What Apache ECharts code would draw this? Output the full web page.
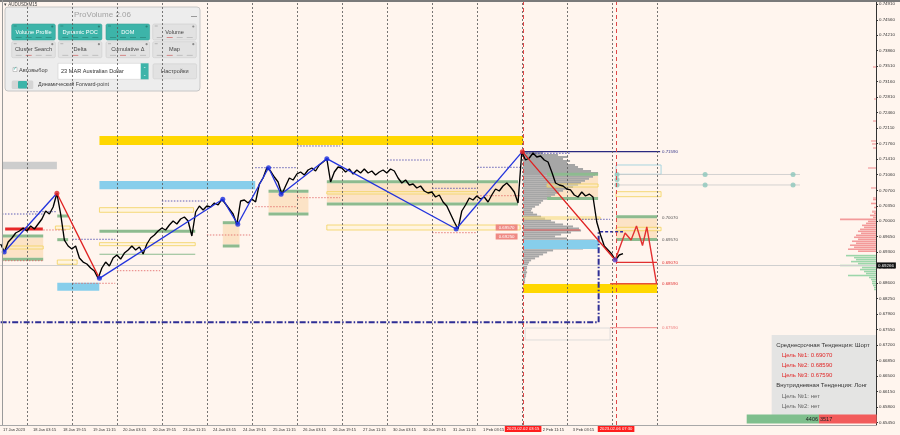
<!DOCTYPE html>
<html><head><meta charset="utf-8">
<script src="https://cdn.jsdelivr.net/npm/echarts@6/dist/echarts.min.js"></script>
<style>html,body{margin:0;padding:0;background:#fff5ee}#c{width:900px;height:435px}</style>
</head><body><div id="c"></div>
<script>
// ================= DATA =================
const xTickHours  = [11.25,27.25,43.25,59.25,75.25,91.25,107.25,123.25,139.25,155.25,171.25,187.25,203.25,219.25,235.25,251.25,267.25,283.25,299.25,315.25,331.25];
const xTickLabels = ['17 Jan 2023','18 Jan 03:15','18 Jan 19:15','19 Jan 11:15','20 Jan 03:15','20 Jan 19:15','23 Jan 11:15','24 Jan 03:15','24 Jan 19:15','25 Jan 11:15','26 Jan 03:15','26 Jan 19:15','27 Jan 11:15','30 Jan 03:15','30 Jan 19:15','31 Jan 11:15','1 Feb 03:15','1 Feb 19:15','2 Feb 11:15','3 Feb 03:15','3 Feb 19:15'];
const yTickLabels = ['0.65450','0.65800','0.66150','0.66500','0.66850','0.67200','0.67550','0.67900','0.68250','0.68600','0.68950','0.69300','0.69650','0.70000','0.70350','0.70700','0.71060','0.71410','0.71760','0.72110','0.72460','0.72810','0.73160','0.73510','0.73860','0.74210','0.74560','0.74910'];
const daySeparatorHours = [24,48,72,96,120,144,168,192,216,240,264,288,312,336,360];
const cursorHours  = [288.7, 338.3];
const cursorLabels = ['2023.02.02 03:15','2023.02.06 07:30'];
const currentPrice = 0.69266;

// close prices, one every 2 trading hours starting at hour 10
const priceStartHour = 10, priceStepHours = 2;
const priceValues = [
0.69485,0.69304,0.69530,0.69621,0.69734,0.69779,0.69847,0.69779,0.69892,0.69824,
0.69938,0.70051,0.70232,0.70164,0.70323,0.70633,0.70164,0.69575,0.69440,0.69372,
0.69440,0.69168,0.69077,0.69032,0.68942,0.68874,0.68708,0.68942,0.69077,0.68987,
0.69168,0.69236,0.69145,0.69281,0.69349,0.69440,0.69349,0.69417,0.69258,0.69485,
0.69621,0.69689,0.69779,0.69847,0.69802,0.69915,0.70006,0.69938,0.70051,0.70096,
0.70006,0.69666,0.70209,0.70345,0.70255,0.70345,0.70323,0.70413,0.70368,0.70497,
0.70390,0.70277,0.70164,0.69931,0.70458,0.70481,0.70413,0.70503,0.70436,0.70843,
0.70979,0.71212,0.71137,0.71001,0.70888,0.70610,0.70798,0.70979,0.70933,0.71069,
0.71115,0.71047,0.71160,0.71205,0.71137,0.71273,0.71341,0.71416,0.70888,0.71115,
0.71228,0.71205,0.71115,0.71182,0.71069,0.71160,0.71092,0.71182,0.71092,0.71137,
0.71047,0.71115,0.71160,0.71092,0.71182,0.71137,0.70979,0.70866,0.70933,0.70820,
0.70843,0.70752,0.70798,0.70684,0.70639,0.70662,0.70549,0.70594,0.70436,0.70345,
0.70164,0.69983,0.69825,0.70232,0.70368,0.70526,0.70481,0.70571,0.70503,0.70549,
0.70436,0.70594,0.70730,0.70684,0.70798,0.70866,0.70775,0.70662,0.70413,0.71574,
0.71386,0.71431,0.71545,0.71454,0.71477,0.71386,0.71341,0.71115,0.70866,0.70820,
0.70798,0.70730,0.70708,0.70594,0.70549,0.70662,0.70571,0.70616,0.70549,0.69983,
0.69689,0.69440,0.69349,0.69258,0.69123,0.69236,0.69266];

// zigzag swing points
const zigzagHours  = [11.9, 40.0, 62.7, 128.5, 136.5, 152.9, 159.6, 184.0, 253.0, 288.3, 337.8];
const zigzagPrices = [0.69304,0.70633,0.68708,0.70497,0.69931,0.71212,0.70610,0.71416,0.69825,0.71574,0.69123];
const zigzagSegColors = ['#2233dd','#e02020','#2233dd','#2233dd','#2233dd','#2233dd','#2233dd','#2233dd','#2233dd','#e02020'];
const zigzagDotColors = ['#1a2ee0','#e02020','#1a2ee0','#1a2ee0','#1a2ee0','#1a2ee0','#1a2ee0','#1a2ee0','#1a2ee0','#e02020','#5a3cc0'];

// forecast path
const forecastHours  = [337.8, 343.1, 346.3, 349.2, 352.4, 354.7, 359.9];
const forecastPrices = [0.69123,0.69734,0.69575,0.69892,0.69451,0.69870,0.68591];

// zones [startHour, endHour, topPrice, bottomPrice]
const goldZones  = [[62.7,288.7,0.71929,0.71726],[288.7,360.2,0.68580,0.68377]];
const skyZones   = [[62.7,145.8,0.70911,0.70723],[40.2,62.6,0.68610,0.68428]];
const valueArea  = [[288.7,328.7,0.69576,0.69372]];
const grayZones  = [[10.7,40.0,0.71348,0.71176]];
const beigeZones = [[10.7,32.7,0.69632,0.69173],[128.5,137.4,0.69933,0.69474],[152.9,174.2,0.70646,0.70198],
                    [184,286,0.70861,0.70425],[301.5,328.7,0.71029,0.70549],[338.3,360.2,0.70069,0.69621]];
const greenZones = [[10.7,32.7,0.69700,0.69632],[10.7,32.7,0.69173,0.69105],[40.2,46.0,0.70153,0.70085],[40.2,46.0,0.69617,0.69549],
                    [62.7,113.8,0.69807,0.69739],[62.7,113.8,0.69264,0.69240],[128.5,137.4,0.70001,0.69933],[128.5,137.4,0.69474,0.69406],
                    [152.9,174.2,0.70714,0.70646],[152.9,174.2,0.70198,0.70130],[184,286,0.70929,0.70861],[184,286,0.70425,0.70357],
                    [301.5,328.7,0.71097,0.71029],[301.5,328.7,0.70549,0.70481],[338.3,360.2,0.70137,0.70069],[338.3,360.2,0.69621,0.69553]];
const yellowBoxes = [[12.4,32.7,0.69440,0.69372],[39.2,47.1,0.69892,0.69818],[40.2,50.8,0.69123,0.69026],[62.7,112.9,0.70307,0.70203],
                     [62.7,113.8,0.69515,0.69447],[184,264.2,0.70669,0.70617],[184,287.1,0.69915,0.69802],[301.5,328.7,0.70843,0.70775],
                     [288.7,329.8,0.70096,0.70051],[338.3,362.3,0.70669,0.70556],[338.3,362.3,0.69863,0.69786]];
const lightBlueBoxes = [[338.3,362.3,0.71273,0.71063]];
const grayBoxes = [[289.8,335.1,0.67584,0.67313]];

// horizontal levels [startHour, endHour, price]
const redDotted  = [[10.7,32.7,0.69107],[32.7,45.5,0.69802],[48.2,71.1,0.68596],[72.0,95.1,0.68881],[120.0,143.1,0.69689],
                    [145.8,168.0,0.70329],[168.2,191.1,0.70533],[240.2,264.2,0.69741],[264.2,287.1,0.70578]];
const blueDotted = [[10.7,32.7,0.70164],[24.2,40.2,0.70216],[48.2,71.1,0.69592],[96.0,119.1,0.70458],[145.8,168.0,0.71212],
                    [168.2,191.1,0.71703],[216.2,239.1,0.71386],[240.2,264.2,0.70746],[264.2,287.1,0.71221],[288.7,313.8,0.71538],[312.2,335.1,0.70044]];
const arrowLevel = [[329.8,342.0,0.69764]];
const redThick   = [[12.4,32.5,0.69825]];
const pocLine    = [[288.7,319.1,0.69802]];
const highLevel  = [[288.7,361.8,0.71574]];
const gridLevels = [[338.3,436.4,0.71058],[338.3,436.4,0.70821]];
const dashDotHours  = [10, 329.0, 329.0];
const dashDotPrices = [0.67713, 0.67713, 0.69757];
const targetLines = [[338.3,360.2,0.69071,'#e03030',1.2],[335.1,360.2,0.68587,'#e8503a',1.5],[335.1,360.2,0.67591,'#f08a8a',1]];
const levelLabelHour = 362.8;
const levelLabels = [[0.71574,'0.71590','#333388'],[0.70070,'0.70070','#555555'],[0.69575,'0.69570','#555555'],
                     [0.69071,'0.69070','#e03030'],[0.68587,'0.68590','#e03030'],[0.67591,'0.67590','#ee8080']];
const tagLabelHour = 279.9;
const tagLabels = [[0.69859,'0.69570'],[0.69655,'0.69250']];
const tealDotHours  = [338.8,338.8,338.8,385.8,385.8,432.7,432.7];
const tealDotPrices = [0.71058,0.70945,0.70821,0.71058,0.70821,0.71058,0.70821];

// volume profile (rows from top price downwards)
const vpAnchorHour = 288.7, vpTopPrice = 0.71567, vpStep = 0.00045, vpHoursPerUnit = 0.533;
const vpSizes = [20,35,45,40,47,44,52,55,60,68,75,72,70,66,62,58,55,50,44,40,36,32,28,24,20,18,16,12,9,8,
                 10,14,18,22,28,32,40,50,56,58,48,38,32,44,72,76,75,74,60,30,24,20,16,12,8,6,5,4,4,3,4,3,3,2,2,2,1];

// depth of market at the right edge
const domAnchorHour = 476.96, domStep = 0.00045, domRowH = 0.00036, domHoursPerUnit = 0.533;
const askStart = 0.69304;
const askSizes = [18,28,22,26,20,24,18,22,20,15,18,16,12,14,10,8,36,3,6,2,4,0,2,0,5,0,3];
const bidStart = 0.69240;
const bidSizes = [30,22,20,25,18,36,14,16,12,10,28,7,5,4,4,3,2,2];
const farAsk = [[0.73491,3],[0.72766,2],[0.72268,3],[0.71817,5],[0.71749,4],[0.71658,3],[0.71205,8],[0.70753,5],[0.70527,3],[0.70209,4]];

// info texts
const trendLines = [
  ['Среднесрочная Тенденция: Шорт','#333333',0],
  ['Цель №1: 0.69070','#e02828',1],
  ['Цель №2: 0.68590','#e02828',1],
  ['Цель №3: 0.67590','#e02828',1],
  ['Внутридневная Тенденция: Лонг','#333333',0],
  ['Цель №1: нет','#666666',1],
  ['Цель №2: нет','#666666',1]];
const deltaCounts = [4406, 3517];
const panelButtons = [['Volume Profile',1],['Dynamic POC',1],['DOM',1],['Volume',0],
                      ['Cluster Search',0],['Delta',0],['Cumulative Δ',0],['Map',0]];

// ================= CHART =================
const FONT = 'Liberation Sans, Arial, sans-serif';
const chart = echarts.init(document.getElementById('c'));

function rectSeries(data, style, z) {
  return {type:'custom', silent:true, z:z, data:data, encode:{x:[0,1], y:[2,3]},
    renderItem:(params, api) => {
      const a = api.coord([api.value(0), api.value(2)]);
      const b = api.coord([api.value(1), api.value(3)]);
      return {type:'rect', shape:{x:a[0], y:a[1], width:b[0]-a[0], height:b[1]-a[1]}, style:Object.assign({}, style)};
    }};
}
function segSeries(data, style, z) {
  return {type:'custom', silent:true, z:z, data:data, encode:{x:[0,1], y:2},
    renderItem:(params, api) => {
      const a = api.coord([api.value(0), api.value(2)]);
      const b = api.coord([api.value(1), api.value(2)]);
      return {type:'line', shape:{x1:a[0], y1:a[1], x2:b[0], y2:b[1]}, style:Object.assign({}, style)};
    }};
}

const vpRects = vpSizes.map((s,i) => [vpAnchorHour, vpAnchorHour + s*vpHoursPerUnit, vpTopPrice - i*vpStep, vpTopPrice - (i+1)*vpStep]);
const askRects = askSizes.map((s,i) => [domAnchorHour - s*domHoursPerUnit, domAnchorHour, askStart + i*domStep + domRowH, askStart + i*domStep]).filter(r => r[1]-r[0] > 0);
const farRects = farAsk.map(d => [domAnchorHour - d[1]*domHoursPerUnit, domAnchorHour, d[0] + domRowH/2, d[0] - domRowH/2]);
const bidRects = bidSizes.map((s,i) => [domAnchorHour - s*domHoursPerUnit, domAnchorHour, bidStart - i*domStep, bidStart - i*domStep - domRowH]);

const zigSegs = zigzagHours.slice(0,-1).map((h,i) => [h, zigzagHours[i+1], zigzagPrices[i], zigzagPrices[i+1]]);
const yTickValues = yTickLabels.map(Number);

const series = [
  {type:'line', data:[], silent:true, z:1,
    markLine:{silent:true, symbol:'none', animation:false, label:{show:false},
      lineStyle:{color:'#555', type:[2,2], width:0.8},
      data: daySeparatorHours.map(h => ({xAxis:h}))}},
  {type:'line', data:[], silent:true, z:1,
    markLine:{silent:true, symbol:'none', animation:false,
      lineStyle:{color:'#cfcfcf', type:'solid', width:1},
      label:{show:true, position:'end', distance:1, formatter:currentPrice.toFixed(5), backgroundColor:'#111', color:'#fff', fontSize:4.4, fontFamily:FONT, padding:[1,2,1,1]},
      data:[{yAxis:currentPrice}]}},
  rectSeries(beigeZones, {fill:'#fce3c6'}, 2),
  rectSeries(goldZones, {fill:'#ffd700'}, 2),
  rectSeries(skyZones, {fill:'#87ceeb'}, 2),
  rectSeries(grayZones, {fill:'#cdcdcd'}, 2),
  rectSeries(vpRects, {fill:'#a6a6a6'}, 2),
  rectSeries(valueArea, {fill:'#87ceeb'}, 3),
  rectSeries(greenZones, {fill:'#8dbb8f'}, 3),
  rectSeries(yellowBoxes, {fill:'rgba(255,244,200,0.35)', stroke:'#f3d25a', lineWidth:0.8}, 3),
  rectSeries(lightBlueBoxes, {fill:'none', stroke:'#a8d4de', lineWidth:1}, 3),
  rectSeries(grayBoxes, {fill:'none', stroke:'#d6d6d6', lineWidth:0.8}, 3),
  segSeries(redDotted, {stroke:'#e06060', lineWidth:0.8, lineDash:[1.5,1.5]}, 3),
  segSeries(blueDotted, {stroke:'#3a3aa8', lineWidth:0.8, lineDash:[1.5,1.5]}, 3),
  segSeries(arrowLevel, {stroke:'#2a2aa0', lineWidth:1.5, lineDash:[3,2]}, 3),
  segSeries(redThick, {stroke:'#e82828', lineWidth:3}, 3),
  segSeries(pocLine, {stroke:'#e05050', lineWidth:1}, 3),
  segSeries(highLevel, {stroke:'#2a2a80', lineWidth:1.2}, 3),
  segSeries(gridLevels, {stroke:'#c8c8c8', lineWidth:0.8}, 3),
  {type:'line', silent:true, z:3, showSymbol:false, data: dashDotHours.map((h,i)=>[h, dashDotPrices[i]]),
    lineStyle:{color:'#2e2e95', width:2, type:[6,2,1.5,2]}},
  {type:'scatter', silent:true, z:3, symbolSize:5, itemStyle:{color:'#8cc7bb'}, data: tealDotHours.map((h,i)=>[h, tealDotPrices[i]])},
  rectSeries(askRects, {fill:'#f39a9a'}, 3),
  rectSeries(farRects, {fill:'#f5b0b0'}, 3),
  rectSeries(bidRects, {fill:'#9cd6aa'}, 3),
  {type:'line', silent:true, z:5, showSymbol:false, data: priceValues.map((v,i)=>[priceStartHour + i*priceStepHours, v]),
    lineStyle:{color:'#000', width:1.35}},
  {type:'custom', silent:true, z:6, data:zigSegs, encode:{x:[0,1], y:[2,3]},
    renderItem:(params, api) => {
      const a = api.coord([api.value(0), api.value(2)]);
      const b = api.coord([api.value(1), api.value(3)]);
      return {type:'line', shape:{x1:a[0], y1:a[1], x2:b[0], y2:b[1]}, style:{stroke:zigzagSegColors[params.dataIndex], lineWidth:1.3}};
    }},
  {type:'scatter', silent:true, z:7, symbolSize:5,
    data: zigzagHours.map((h,i)=>({value:[h, zigzagPrices[i]], itemStyle:{color:zigzagDotColors[i]}}))},
  {type:'line', silent:true, z:6, showSymbol:false, data: forecastHours.map((h,i)=>[h, forecastPrices[i]]),
    lineStyle:{color:'#e23030', width:1.4}},
  {type:'custom', silent:true, z:6, data:targetLines.map(t=>[t[0],t[1],t[2]]), encode:{x:[0,1], y:2},
    renderItem:(params, api) => {
      const t = targetLines[params.dataIndex];
      const a = api.coord([t[0], t[2]]), b = api.coord([t[1], t[2]]);
      return {type:'line', shape:{x1:a[0], y1:a[1], x2:b[0], y2:b[1]}, style:{stroke:t[3], lineWidth:t[4]}};
    }},
  {type:'custom', silent:true, z:8, data:levelLabels.map(l=>[levelLabelHour, l[0]]), encode:{x:0, y:1},
    renderItem:(params, api) => {
      const l = levelLabels[params.dataIndex];
      const p = api.coord([levelLabelHour, l[0]]);
      return {type:'text', x:p[0], y:p[1], style:{text:l[1], fill:l[2], font:'4.4px '+FONT, align:'left', verticalAlign:'middle', textAlign:'left', textVerticalAlign:'middle'}};
    }},
  {type:'custom', silent:true, z:8, data:tagLabels.map(l=>[tagLabelHour, l[0]]), encode:{x:0, y:1},
    renderItem:(params, api) => {
      const l = tagLabels[params.dataIndex];
      const p = api.coord([tagLabelHour, l[0]]);
      return {type:'text', x:p[0], y:p[1], style:{text:l[1], fill:'#fff', font:'4.4px '+FONT, align:'center', verticalAlign:'middle', textAlign:'center', textVerticalAlign:'middle', backgroundColor:'#ef8a84', padding:[1,3,1,3]}};
    }},
  {type:'line', data:[], silent:true, z:9,
    markLine:{silent:true, symbol:'none', animation:false,
      lineStyle:{color:'#e04848', type:[4,3], width:1},
      label:{show:true, position:'start', distance:1, backgroundColor:'#ff1d1d', color:'#fff', fontSize:4.2, fontFamily:FONT, padding:[1,2,1,2]},
      data: cursorHours.map((h,i)=>({xAxis:h, label:{formatter:cursorLabels[i]}}))}}
];

// ---------- graphics ----------
const g = [];
g.push({type:'line', shape:{x1:0, y1:1, x2:900, y2:1}, style:{stroke:'#7a7a7a', lineWidth:2}, z:50});
g.push({type:'line', shape:{x1:2.5, y1:0, x2:2.5, y2:425}, style:{stroke:'#9a9a9a', lineWidth:1}, z:50});
g.push({type:'text', x:4, y:4.5, style:{text:'▾ AUDUSD,M15', fill:'#444', font:'4.5px '+FONT, verticalAlign:'middle', textVerticalAlign:'middle'}, z:50});

const box = {type:'group', x:771.7, y:335, z:60, children:[
  {type:'rect', shape:{x:0, y:0, width:104.3, height:80}, style:{fill:'rgba(226,226,226,0.93)'}}
]};
trendLines.forEach((t,i) => {
  box.children.push({type:'text', x: t[2] ? 10 : 4.5, y: 10 + i*10.2,
    style:{text:t[0], fill:t[1], font:'6px '+FONT, verticalAlign:'middle', textVerticalAlign:'middle'}});
});
g.push(box);

const dTot = deltaCounts[0] + deltaCounts[1];
const barX = 746.7, barW = 130, barY = 414.5, barH = 9;
const greenW = barW * deltaCounts[0] / dTot;
g.push({type:'rect', z:60, shape:{x:barX, y:barY, width:greenW, height:barH}, style:{fill:'#7fbf8d'}});
g.push({type:'rect', z:60, shape:{x:barX+greenW, y:barY, width:barW-greenW, height:barH}, style:{fill:'#f25b5b'}});
g.push({type:'text', z:61, x:barX+greenW-1, y:barY+barH/2+0.5, style:{text:String(deltaCounts[0]), fill:'#222', font:'5.5px '+FONT, align:'right', textAlign:'right', verticalAlign:'middle', textVerticalAlign:'middle'}});
g.push({type:'text', z:61, x:barX+greenW+1, y:barY+barH/2+0.5, style:{text:String(deltaCounts[1]), fill:'#222', font:'5.5px '+FONT, align:'left', textAlign:'left', verticalAlign:'middle', textVerticalAlign:'middle'}});

const pc = [];
pc.push({type:'rect', shape:{x:0, y:0, width:195, height:84, r:3}, style:{fill:'#ededed', stroke:'#c6c6c6', lineWidth:1}});
pc.push({type:'text', x:97.5, y:7.5, style:{text:'ProVolume 2.06', fill:'#a3a3a3', font:'8px '+FONT, align:'center', textAlign:'center', verticalAlign:'middle', textVerticalAlign:'middle'}});
pc.push({type:'rect', shape:{x:186, y:9, width:6, height:1}, style:{fill:'#9a9a9a'}});
const colX = [6.7, 53.3, 101, 147.7], colW = 43.6;
const rowY = [17, 34.7], rowH = 16;
panelButtons.forEach((b,i) => {
  const x = colX[i%4], y = rowY[Math.floor(i/4)];
  const teal = b[1] === 1;
  pc.push({type:'rect', shape:{x:x, y:y, width:colW, height:rowH, r:1.5}, style:{fill: teal ? '#3db4a9' : '#e2e2e2', stroke: teal ? '#35a297' : '#cfcfcf', lineWidth:0.6}});
  pc.push({type:'circle', shape:{cx:x+colW-3, cy:y+2.5, r:1.1}, style:{fill: teal ? '#2a7f76' : '#8a8a8a'}});
  pc.push({type:'rect', shape:{x:x+2, y:y+1.5, width:3, height:1}, style:{fill: teal ? '#2f8f85' : '#b5b5b5'}});
  for (let k=0;k<4;k++) {
    pc.push({type:'rect', shape:{x:x+4+k*10, y:y+rowH-2.8, width:6, height:0.8}, style:{fill: teal ? '#2e8c82' : (k===1?'#d07070':'#b8b8b8')}});
  }
  pc.push({type:'text', x:x+colW/2, y:y+rowH/2, style:{text:b[0], fill: teal ? '#ffffff' : '#444', font:'5.6px '+FONT, align:'center', textAlign:'center', verticalAlign:'middle', textVerticalAlign:'middle'}});
});
pc.push({type:'rect', shape:{x:8, y:60.5, width:4, height:4}, style:{fill:'#fff', stroke:'#9a9a9a', lineWidth:0.5}});
pc.push({type:'text', x:8.2, y:61.8, style:{text:'✓', fill:'#3db4a9', font:'5px '+FONT, verticalAlign:'middle', textVerticalAlign:'middle'}});
pc.push({type:'text', x:14, y:63.5, style:{text:'Автовыбор', fill:'#444', font:'5.6px '+FONT, verticalAlign:'middle', textVerticalAlign:'middle'}});
pc.push({type:'rect', shape:{x:53, y:56.3, width:90.5, height:16}, style:{fill:'#ffffff', stroke:'#d0d0d0', lineWidth:0.6}});
pc.push({type:'text', x:56, y:64.3, style:{text:'23 MAR Australian Dollar', fill:'#333', font:'5.6px '+FONT, verticalAlign:'middle', textVerticalAlign:'middle'}});
pc.push({type:'rect', shape:{x:135.7, y:56.3, width:7.8, height:16}, style:{fill:'#3db4a9'}});
pc.push({type:'text', x:139.6, y:61.5, style:{text:'⌃', fill:'#fff', font:'4px '+FONT, align:'center', textAlign:'center', verticalAlign:'middle', textVerticalAlign:'middle'}});
pc.push({type:'text', x:139.6, y:67.5, style:{text:'⌄', fill:'#fff', font:'4px '+FONT, align:'center', textAlign:'center', verticalAlign:'middle', textVerticalAlign:'middle'}});
pc.push({type:'rect', shape:{x:148, y:56.8, width:43.6, height:15, r:1.5}, style:{fill:'#e2e2e2', stroke:'#cfcfcf', lineWidth:0.6}});
pc.push({type:'text', x:169.8, y:64.3, style:{text:'Настройки', fill:'#444', font:'5.6px '+FONT, align:'center', textAlign:'center', verticalAlign:'middle', textVerticalAlign:'middle'}});
pc.push({type:'rect', shape:{x:6.7, y:73.5, width:21.6, height:8.5, r:1.5}, style:{fill:'#d5d5d5'}});
pc.push({type:'rect', shape:{x:13, y:74, width:9, height:7.5, r:1}, style:{fill:'#3db4a9'}});
pc.push({type:'text', x:33, y:77.8, style:{text:'Динамический Forward-point', fill:'#444', font:'5.4px '+FONT, verticalAlign:'middle', textVerticalAlign:'middle'}});
g.push({type:'group', x:5, y:7, z:70, children:pc});

const option = {
  backgroundColor:'#fff5ee',
  animation:false,
  grid:{left:0, right:24, top:0, bottom:10, containLabel:false},
  xAxis:[{type:'value', min:9.76, max:476.96,
    splitLine:{show:false},
    axisLine:{show:true, lineStyle:{color:'#a8a8a8', width:1}},
    axisTick:{show:false},
    axisLabel:{show:true, customValues:xTickHours, align:'left', margin:2.5, fontSize:4, fontFamily:FONT, color:'#333',
      formatter:(v)=>{ const i = xTickHours.findIndex(h=>Math.abs(h-v)<1e-6); return i>=0 ? xTickLabels[i] : ''; }}}],
  yAxis:[{type:'value', position:'right', min:0.65389, max:0.75007, scale:true,
    splitLine:{show:false},
    axisLine:{show:true, lineStyle:{color:'#333', width:1}},
    axisTick:{show:true, customValues:yTickValues, length:2, lineStyle:{color:'#333'}},
    axisLabel:{show:true, customValues:yTickValues, margin:3, fontSize:4.4, fontFamily:FONT, color:'#333',
      formatter:(v)=>{ const i = yTickValues.findIndex(t=>Math.abs(t-v)<1e-7); return i>=0 ? yTickLabels[i] : ''; }}}],
  series:series,
  graphic:g
};
chart.setOption(option);
</script>
</body></html>
